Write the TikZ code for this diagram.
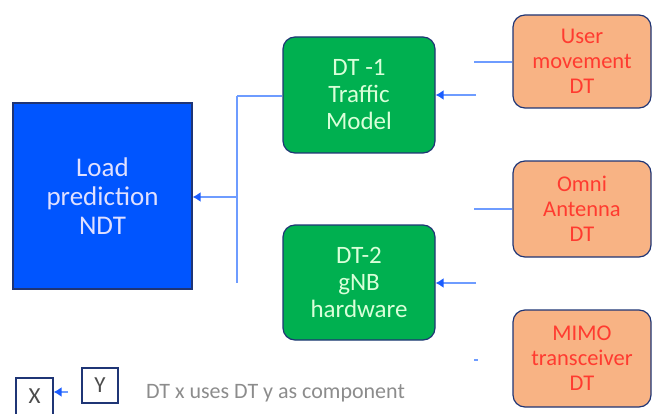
\documentclass[tikz,border=0pt]{standalone}
\usepackage{fontspec}
\setmainfont{Carlito}
\usepackage{tikz}
\usetikzlibrary{positioning, arrows, arrows.meta}
\definecolor{ndtblue}{HTML}{0055FF}
\definecolor{navy}{HTML}{1F3575}
\definecolor{dtgreen}{HTML}{00B050}
\definecolor{dtorange}{HTML}{F8B384}
\definecolor{dtred}{HTML}{FF3B30}
\definecolor{linkblue}{HTML}{6E9CFF}
\definecolor{tipblue}{HTML}{1A5CFF}

\begin{document}
\begin{tikzpicture}[x=1pt, y=-1pt,
    box/.style={draw=navy, line width=1.2pt, align=center, inner sep=0pt},
    link/.style={draw=linkblue, line width=1.8pt},
    arr/.style={link, -{Latex[length=8pt, width=10pt, color=tipblue]}}]
    \useasboundingbox (0,0) rectangle (652,414);
    % main boxes
    \node[box, fill=ndtblue, text=blue!12, minimum width=179pt, minimum height=186pt,
          font=\fontsize{27}{29}\selectfont] (ndt) at (102.5,196) {Load\\prediction\\NDT};
    \node[box, fill=dtgreen, text=green!15, rounded corners=12pt, minimum width=152pt,
          minimum height=116pt, font=\fontsize{25}{27}\selectfont] (dt1) at (359,95) {DT -1\\Traffic\\Model};
    \node[box, fill=dtgreen, text=green!15, rounded corners=12pt, minimum width=152pt,
          minimum height=115pt, font=\fontsize{25}{27}\selectfont] (dt2) at (359,282.5) {DT-2\\gNB\\hardware};
    % component DTs
    \node[box, fill=dtorange, text=dtred, rounded corners=12pt, minimum width=138pt,
          minimum height=93pt, font=\fontsize{22.5}{25}\selectfont] (um) at (582,61.5) {User\\movement\\DT};
    \node[box, fill=dtorange, text=dtred, rounded corners=12pt, minimum width=138pt,
          minimum height=96pt, font=\fontsize{22.5}{25}\selectfont] (omni) at (582,209) {Omni\\Antenna\\DT};
    \node[box, fill=dtorange, text=dtred, rounded corners=12pt, minimum width=138pt,
          minimum height=97pt, font=\fontsize{22.5}{25}\selectfont] (mimo) at (582,358.5) {MIMO\\transceiver\\DT};
    % connectors
    \coordinate (b1) at (237,96);
    \coordinate (b2) at (237,283);
    \coordinate (b3) at (237,197);
    \coordinate (c1) at (474,62);
    \coordinate (c2) at (476,95);
    \coordinate (c3) at (474,209);
    \coordinate (c4) at (476,283);
    \coordinate (c5) at (474,360);
    \coordinate (c6) at (478,360);
    \draw[link] (b1) -- (b2);
    \draw[link] (b1) -- (b1 -| dt1.west);
    \draw[arr] (b3) -- (ndt.east |- b3);
    \draw[link] (um.west |- c1) -- (c1);
    \draw[arr] (c2) -- (dt1.east |- c2);
    \draw[link] (omni.west |- c3) -- (c3);
    \draw[arr, line width=2.8pt] (c4) -- (dt2.east |- c4);
    \draw[link] (c5) -- (c6);
    % legend
    \node[box, minimum width=37pt, minimum height=37pt, text=black!70,
          font=\fontsize{23}{23}\selectfont] (x) at (34.5,396.5) {X};
    \node[box, minimum width=36pt, minimum height=35pt, text=black!70,
          font=\fontsize{23}{23}\selectfont] (y) at (100,385.5) {Y};
    \coordinate (lg) at (68,392);
    \draw[arr] (lg) -- (x.east |- lg);
    \node[text=black!45, font=\fontsize{22}{22}\selectfont] (leg) at (275.5,393) {DT x uses DT y as component};
\end{tikzpicture}
\end{document}
